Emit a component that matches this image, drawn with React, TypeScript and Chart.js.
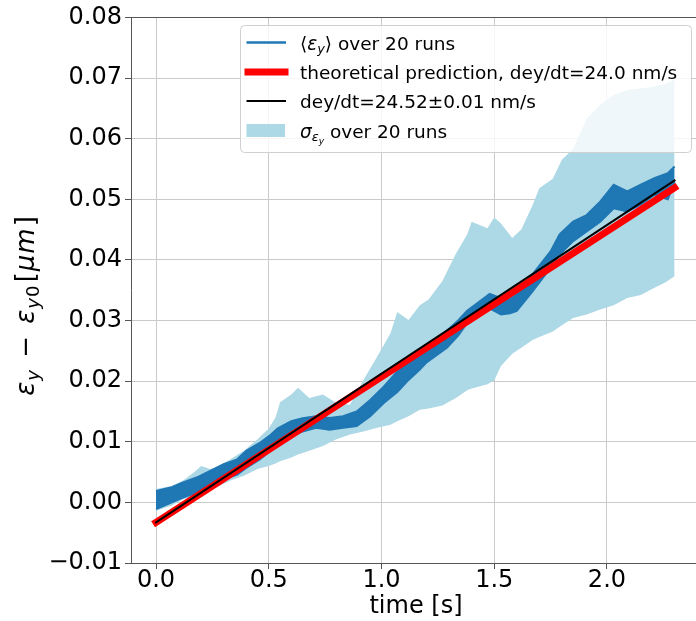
import { useEffect, useRef } from "react";
import { Chart, registerables } from "chart.js";

Chart.register(...registerables);

// Spread of the 20 runs (mean ± sigma), µm vs. time in s
const bandTime = [
  0.0, 0.07, 0.12, 0.17, 0.2, 0.24, 0.27, 0.33, 0.39, 0.45, 0.5, 0.53, 0.55, 0.6, 0.63, 0.68, 0.74, 0.8,
  0.86, 0.92, 0.98, 1.04, 1.07, 1.12, 1.17, 1.21, 1.27, 1.33, 1.38, 1.4, 1.47, 1.5, 1.53, 1.58, 1.62,
  1.67, 1.7, 1.76, 1.8, 1.85, 1.91, 1.97, 2.03, 2.09, 2.15, 2.2, 2.26, 2.3,
];
const bandUpper = [
  0.0022, 0.0027, 0.0036, 0.005, 0.006, 0.0055, 0.0058, 0.0071, 0.0085, 0.0104, 0.0122, 0.014, 0.0165,
  0.0178, 0.0189, 0.0172, 0.0178, 0.0164, 0.0161, 0.0202, 0.024, 0.0279, 0.0314, 0.0301, 0.0325, 0.0335,
  0.0365, 0.041, 0.0442, 0.0463, 0.0452, 0.047, 0.046, 0.0436, 0.045, 0.049, 0.0518, 0.0534, 0.0565,
  0.0583, 0.0633, 0.0656, 0.0672, 0.068, 0.0683, 0.0685, 0.069, 0.0698,
];
const bandLower = [
  -0.0014, -0.0005, 0.0005, 0.001, 0.0014, 0.002, 0.0025, 0.0036, 0.0044, 0.0055, 0.006, 0.0064, 0.0068,
  0.0074, 0.0079, 0.0085, 0.0093, 0.0104, 0.0112, 0.0117, 0.0123, 0.0128, 0.0134, 0.0142, 0.0153, 0.0155,
  0.016, 0.0172, 0.0185, 0.0188, 0.0195, 0.0201, 0.0225, 0.0245, 0.0255, 0.0268, 0.0273, 0.0282, 0.0292,
  0.0304, 0.031, 0.0318, 0.0325, 0.0337, 0.0342, 0.0352, 0.0363, 0.0373,
];

// Envelope of the averaged trace <eps_y>
const meanTime = [
  0.0, 0.07, 0.12, 0.18, 0.24, 0.3, 0.36, 0.4, 0.46, 0.51, 0.54, 0.6, 0.65, 0.71, 0.77, 0.83, 0.89, 0.95,
  1.01, 1.07, 1.12, 1.17, 1.2, 1.29, 1.34, 1.38, 1.42, 1.48, 1.53, 1.57, 1.6, 1.67, 1.75, 1.79, 1.85,
  1.91, 1.97, 2.03, 2.09, 2.15, 2.21, 2.27, 2.3,
];
const meanUpper = [
  0.0019, 0.0025, 0.0033, 0.0041, 0.0052, 0.0063, 0.0071, 0.0085, 0.0098, 0.0112, 0.0122, 0.0134, 0.0139,
  0.0142, 0.0139, 0.0142, 0.015, 0.0169, 0.0191, 0.0216, 0.0235, 0.0246, 0.0255, 0.0283, 0.03, 0.0316,
  0.0327, 0.0344, 0.0337, 0.0335, 0.0343, 0.0376, 0.0414, 0.0442, 0.0463, 0.0474, 0.0496, 0.0524, 0.0513,
  0.0524, 0.0535, 0.0543, 0.0554,
];
const meanLower = [
  -0.0011, 0.0, 0.0008, 0.0016, 0.0027, 0.0038, 0.0046, 0.0057, 0.0071, 0.0086, 0.0098, 0.0109, 0.0117,
  0.0123, 0.012, 0.0123, 0.0126, 0.0142, 0.0164, 0.0182, 0.0202, 0.0219, 0.0231, 0.0255, 0.0275, 0.0296,
  0.0305, 0.032, 0.031, 0.0312, 0.0316, 0.0348, 0.0387, 0.0409, 0.0431, 0.0447, 0.0463, 0.0485, 0.048,
  0.0491, 0.0507, 0.05, 0.0529,
];

// Straight lines: predicted and fitted drift rates (nm/s)
const lineTime = [0, 2.3];
const theorySlope = 24.0;
const fitSlope = 24.52;
const lineOffset = -0.0033;

const xTicks = [0, 0.5, 1.0, 1.5, 2.0];
const yTicks = [-0.01, 0.0, 0.01, 0.02, 0.03, 0.04, 0.05, 0.06, 0.07, 0.08];

const FONT = '"DejaVu Sans", sans-serif';
const GRID = "#cacaca";
const SPINE = "#555555";
const MEAN_COLOR = "#1f77b4";
const BAND_COLOR = "#add8e6";

type Run = { t: string; it?: boolean; lvl?: number; gap?: number };

function fontFor(size: number, it?: boolean) {
  return `${it ? "italic " : ""}${size}px ${FONT}`;
}

function layoutRuns(ctx: CanvasRenderingContext2D, runs: Run[], size: number) {
  let w = 0;
  const items = runs.map((r) => {
    const lvl = r.lvl ?? 0;
    const s = size * Math.pow(0.7, lvl);
    let dy = 0;
    for (let k = 0; k < lvl; k++) dy += size * Math.pow(0.7, k) * 0.2;
    ctx.font = fontFor(s, r.it);
    const item = { ...r, s, dy, x: w };
    w += ctx.measureText(r.t).width + (r.gap ?? 0);
    return item;
  });
  return { items, width: w };
}

function drawRuns(ctx: CanvasRenderingContext2D, runs: Run[], x: number, y: number, size: number) {
  const { items, width } = layoutRuns(ctx, runs, size);
  for (const it of items) {
    ctx.font = fontFor(it.s, it.it);
    ctx.fillText(it.t, x + it.x, y + it.dy);
  }
  return width;
}

const yLabel: Run[] = [
  { t: "ε", it: true, gap: 1 },
  { t: "y", it: true, lvl: 1, gap: 4 },
  { t: " − ", gap: 4 },
  { t: "ε", it: true, gap: 1 },
  { t: "y", it: true, lvl: 1, gap: 1 },
  { t: "0", lvl: 1, gap: 3 },
  { t: "[", gap: 1 },
  { t: "μ", it: true, gap: 1 },
  { t: "m", it: true, gap: 2 },
  { t: "]" },
];

const legendEntries: { kind: string; runs: Run[] }[] = [
  { kind: "mean", runs: [{ t: "⟨" }, { t: "ε", it: true }, { t: "y", it: true, lvl: 1 }, { t: "⟩ over 20 runs" }] },
  { kind: "theory", runs: [{ t: "theoretical prediction, dey/dt=24.0 nm/s" }] },
  { kind: "fit", runs: [{ t: "dey/dt=24.52±0.01 nm/s" }] },
  {
    kind: "band",
    runs: [{ t: "σ", it: true }, { t: "ε", it: true, lvl: 1 }, { t: "y", it: true, lvl: 2 }, { t: " over 20 runs" }],
  },
];

const annotations = {
  id: "annotations",
  afterDraw(chart: any) {
    const ctx: CanvasRenderingContext2D = chart.ctx;
    ctx.save();
    ctx.fillStyle = "#000";
    ctx.textBaseline = "alphabetic";

    // axis titles
    ctx.font = fontFor(24);
    ctx.textAlign = "center";
    ctx.fillText("time [s]", 416, 613);
    ctx.textAlign = "left";
    ctx.save();
    ctx.translate(34, 306);
    ctx.rotate(-Math.PI / 2);
    const w = layoutRuns(ctx, yLabel, 26).width;
    drawRuns(ctx, yLabel, -w / 2, 0, 26);
    ctx.restore();

    // legend box
    const bx = 240.5, by = 25.5, bw = 451, bh = 127;
    ctx.beginPath();
    ctx.roundRect(bx, by, bw, bh, 4);
    ctx.fillStyle = "rgba(255,255,255,0.8)";
    ctx.fill();
    ctx.strokeStyle = "#d0d0d0";
    ctx.lineWidth = 1;
    ctx.stroke();

    const rows = [42.5, 72, 101, 130.5];
    legendEntries.forEach((e, i) => {
      const y = rows[i];
      ctx.beginPath();
      if (e.kind === "band") {
        ctx.fillStyle = BAND_COLOR;
        ctx.fillRect(246.5, y - 6.5, 38.5, 13);
      } else {
        ctx.lineCap = "butt";
        if (e.kind === "mean") {
          ctx.strokeStyle = MEAN_COLOR;
          ctx.lineWidth = 2.5;
        } else if (e.kind === "theory") {
          ctx.strokeStyle = "#ff0000";
          ctx.lineWidth = 7;
        } else {
          ctx.strokeStyle = "#000000";
          ctx.lineWidth = 1.8;
        }
        const x0 = e.kind === "theory" ? 244.5 : 246.5;
        const x1 = e.kind === "theory" ? 288.5 : 286;
        ctx.moveTo(x0, y);
        ctx.lineTo(x1, y);
        ctx.stroke();
      }
      ctx.fillStyle = "#000";
      drawRuns(ctx, e.runs, 300, y + 7, 18.5);
    });
    ctx.restore();
  },
};

export default function App() {
  const ref = useRef<HTMLCanvasElement>(null);

  useEffect(() => {
    document.body.style.margin = "0";
    const canvas = ref.current;
    if (!canvas) return;
    const pts = (xs: number[], ys: number[]) => xs.map((x, i) => ({ x, y: ys[i] }));
    const straight = (slope: number) => lineTime.map((t) => lineOffset + slope * 1e-3 * t);
    const clear = "rgba(0,0,0,0)";

    const chart = new Chart(canvas, {
      type: "line",
      data: {
        datasets: [
          {
            label: "dey/dt=24.52±0.01 nm/s",
            data: pts(lineTime, straight(fitSlope)),
            borderColor: "#000000",
            borderWidth: 2,
            borderCapStyle: "square",
            pointRadius: 0,
            fill: false,
            order: 0,
          },
          {
            label: "theoretical prediction, dey/dt=24.0 nm/s",
            data: pts(lineTime, straight(theorySlope)),
            borderColor: "#ff0000",
            borderWidth: 7,
            borderCapStyle: "square",
            pointRadius: 0,
            fill: false,
            order: 1,
          },
          {
            label: "mean lower",
            data: pts(meanTime, meanLower),
            borderColor: MEAN_COLOR,
            borderWidth: 2,
            pointRadius: 0,
            fill: false,
            order: 2,
          },
          {
            label: "mean upper",
            data: pts(meanTime, meanUpper),
            borderColor: MEAN_COLOR,
            backgroundColor: MEAN_COLOR,
            borderWidth: 2,
            pointRadius: 0,
            fill: "-1",
            order: 2,
          },
          {
            label: "sigma lower",
            data: pts(bandTime, bandLower),
            borderColor: clear,
            borderWidth: 0,
            pointRadius: 0,
            fill: false,
            order: 4,
          },
          {
            label: "sigma upper",
            data: pts(bandTime, bandUpper),
            borderColor: clear,
            backgroundColor: BAND_COLOR,
            borderWidth: 0,
            pointRadius: 0,
            fill: "-1",
            order: 4,
          },
        ],
      },
      options: {
        responsive: false,
        animation: false,
        events: [],
        layout: { padding: { top: 15, left: 0, right: 0, bottom: 0 } },
        plugins: {
          legend: { display: false },
          tooltip: { enabled: false },
        },
        scales: {
          x: {
            type: "linear",
            min: -0.111,
            max: 2.395,
            afterBuildTicks: (s: any) => {
              s.ticks = xTicks.map((v) => ({ value: v }));
            },
            afterFit: (s: any) => {
              s.height = 58;
            },
            ticks: {
              callback: (v: any) => Number(v).toFixed(1),
              color: "#000",
              font: { family: FONT, size: 24 },
              padding: -3,
              maxRotation: 0,
              autoSkip: false,
            },
            grid: { color: GRID, lineWidth: 1, tickColor: SPINE, tickLength: 6 },
            border: { color: SPINE, width: 1 },
          },
          y: {
            type: "linear",
            min: -0.01,
            max: 0.08,
            afterBuildTicks: (s: any) => {
              s.ticks = yTicks.map((v) => ({ value: v }));
            },
            afterFit: (s: any) => {
              s.width = 131;
            },
            ticks: {
              callback: (v: any) => (Number(v) < 0 ? "−" : "") + Math.abs(Number(v)).toFixed(2),
              color: "#000",
              font: { family: FONT, size: 24 },
              padding: 3,
              autoSkip: false,
            },
            grid: {
              color: (c: any) => (c.tick && c.tick.value === 0.08 ? SPINE : GRID),
              lineWidth: 1,
              tickColor: SPINE,
              tickLength: 6,
            },
            border: { color: SPINE, width: 1 },
          },
        },
      },
      plugins: [annotations],
    } as any);

    return () => chart.destroy();
  }, []);

  return (
    <div style={{ width: 696, height: 621 }}>
      <canvas ref={ref} width={696} height={621} style={{ display: "block" }} />
    </div>
  );
}
